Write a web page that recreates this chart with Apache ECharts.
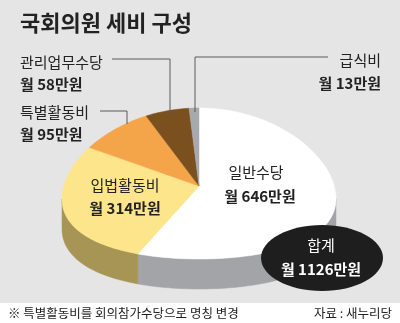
<!DOCTYPE html>
<html>
<head>
<meta charset="utf-8">
<script src="https://cdn.jsdelivr.net/npm/echarts@6/dist/echarts.min.js"></script>
<style>
  html, body { margin: 0; padding: 0; background: #ffffff; }
  #chart { width: 400px; height: 323px; }
</style>
</head>
<body>
<div id="chart"></div>
<script>
// 세비 항목 (시계방향, 12시 방향부터)
var names = ['일반수당', '입법활동비', '특별활동비', '관리업무수당', '급식비'];
var values = [646, 314, 95, 58, 13];
var topColors = ['#ffffff', '#fde58b', '#f5a549', '#7b501f', '#a8a9ad'];
var sideColors = ['#a3a4a8', '#a69555', '#b97a33', '#5a3a16', '#8a8b8f'];

var total = values.reduce(function (a, b) { return a + b; }, 0);
var FONT = '"Noto Sans CJK KR", "Noto Sans", sans-serif';

// 원판 모양 (약간 원근감 있는 타원)
var P = { cx: 199, cy: 186, rx: 137, ryTop: 78, ryBot: 73, bulge: 13, depth: 30 };

function rimPoint(deg, dy) {
    var t = deg * Math.PI / 180;
    var s = Math.sin(t), c = Math.cos(t);
    var ry = s > 0 ? P.ryTop : P.ryBot;
    return [P.cx + P.rx * c, P.cy - ry * s + P.bulge * c * c + dy];
}
function rim(a0, a1, dy) {
    var n = Math.max(2, Math.ceil(Math.abs(a1 - a0) / 2));
    var pts = [];
    for (var k = 0; k <= n; k++) {
        pts.push(rimPoint(a0 + (a1 - a0) * k / n, dy));
    }
    return pts;
}
// 각 조각의 시작/끝 각도 (수학 각도, 90도에서 시계방향)
var angles = [];
var acc = 0;
values.forEach(function (v) {
    var a0 = 90 - acc / total * 360;
    acc += v;
    angles.push([a0, 90 - acc / total * 360]);
});

function renderSide(params, api) {
    var i = params.dataIndex;
    var a0 = angles[i][0], a1 = angles[i][1];
    var hi = Math.min(a0, 0), lo = Math.max(a1, -180);
    if (lo >= hi) return null;
    var pts = rim(hi, lo, 0).concat(rim(lo, hi, P.depth));
    return {
        type: 'polygon',
        shape: { points: pts },
        style: { fill: sideColors[i], stroke: sideColors[i], lineWidth: 0.5 }
    };
}
function renderTop(params, api) {
    var i = params.dataIndex;
    var pts = [[P.cx, P.cy]].concat(rim(angles[i][0], angles[i][1], 0));
    return {
        type: 'polygon',
        shape: { points: pts },
        style: { fill: topColors[i], stroke: topColors[i], lineWidth: 0.5 }
    };
}

var seriesData = values.map(function (v, i) { return { name: names[i], value: v }; });

function txt(x, y, text, opt) {
    opt = opt || {};
    return {
        type: 'text', x: x, y: y, z: 100,
        style: {
            text: text,
            font: (opt.bold ? 'bold ' : '') + (opt.size || 15) + 'px ' + FONT,
            fill: opt.color || '#222222',
            textAlign: opt.align || 'left',
            textVerticalAlign: 'middle'
        }
    };
}
function line(points) {
    return {
        type: 'polyline', z: 50,
        shape: { points: points },
        style: { stroke: '#5a5a5a', lineWidth: 1, fill: null }
    };
}

var chart = echarts.init(document.getElementById('chart'));
chart.setOption({
    backgroundColor: '#e5e5e5',
    animation: false,
    series: [
        { type: 'custom', coordinateSystem: 'none', z: 1, data: seriesData, renderItem: renderSide },
        { type: 'custom', coordinateSystem: 'none', z: 2, data: seriesData, renderItem: renderTop }
    ],
    graphic: [
        // 하단 흰색 띠
        { type: 'rect', z: 0, shape: { x: 0, y: 303, width: 400, height: 20 }, style: { fill: '#ffffff' } },
        txt(20, 23, '국회의원 세비 구성', { bold: true, size: 22 }),

        line([[112, 59], [170, 59], [170, 114]]),
        line([[100, 111], [127, 111], [127, 124]]),
        line([[328, 57], [195, 57], [195, 112]]),

        txt(20, 62, names[3]),
        txt(20, 84, '월 ' + values[3] + '만원', { bold: true }),
        txt(20, 112, names[2]),
        txt(20, 134, '월 ' + values[2] + '만원', { bold: true }),
        txt(381, 60, names[4], { align: 'right' }),
        txt(381, 83, '월 ' + values[4] + '만원', { bold: true, align: 'right' }),

        txt(125, 185, names[1], { align: 'center' }),
        txt(125, 208, '월 ' + values[1] + '만원', { bold: true, align: 'center' }),
        txt(256, 172, names[0], { align: 'center' }),
        txt(260, 196, '월 ' + values[0] + '만원', { bold: true, align: 'center' }),

        { type: 'ellipse', z: 90, shape: { cx: 322, cy: 258, rx: 61, ry: 33 }, style: { fill: '#1e1e1e' } },
        txt(321, 245, '합계', { align: 'center', color: '#ffffff' }),
        txt(321, 269, '월 ' + total + '만원', { bold: true, align: 'center', color: '#ffffff' }),

        txt(8, 313, '※ 특별활동비를 회의참가수당으로 명칭 변경', { size: 12.5 }),
        txt(392, 313, '자료 : 새누리당', { size: 12.5, align: 'right' })
    ]
});
</script>
</body>
</html>
